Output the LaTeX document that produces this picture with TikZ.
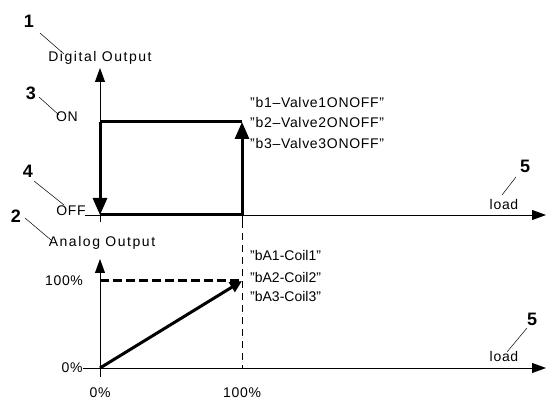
\documentclass[tikz,border=0pt]{standalone}
\usepackage{fontspec}
\setmainfont{Liberation Sans}
\usetikzlibrary{arrows.meta}
\begin{document}
\begin{tikzpicture}[x=1pt,y=-1pt,
  every node/.style={inner sep=0pt},
  txt/.style={font=\fontsize{14}{16}\selectfont\addfontfeature{LetterSpace=5}},
  coil/.style={font=\fontsize{14}{16}\selectfont},
  ttl/.style={font=\fontsize{14}{16}\selectfont\addfontfeature{LetterSpace=11}},
  num/.style={font=\fontsize{18}{20}\selectfont\bfseries},
  axis/.style={line width=0.8pt, -{Triangle[length=14pt,width=10pt]}},
  heavy/.style={line width=3pt},
  heavyarrow/.style={line width=3pt, -{Triangle[length=17pt,width=14pt]}},
  heavyarrowsmall/.style={line width=3pt, -{Triangle[length=12pt,width=11pt]}},
  leader/.style={line width=0.5pt},
  guide/.style={line width=0.8pt, dash pattern=on 7pt off 5pt},
  heavydash/.style={line width=3pt, dash pattern=on 9pt off 4pt}
]
\useasboundingbox (0,0) rectangle (546,403);
% --- top chart points
\coordinate (tyb) at (100,222);
\coordinate (tyt) at (100,68);
\coordinate (txl) at (85,215);
\coordinate (txr) at (546,215);
\coordinate (t0) at (100,215);
\coordinate (ton) at (100,122);
\coordinate (tonr) at (242,122);
\coordinate (toffr) at (242,215);
\coordinate (ttick) at (242,221);
% --- bottom chart points
\coordinate (byb) at (100,377);
\coordinate (byt) at (100,259);
\coordinate (bxl) at (83,368);
\coordinate (bxr) at (546,368);
\coordinate (b0) at (100,368);
\coordinate (bfull) at (100,281);
\coordinate (bfullr) at (242,281);
\coordinate (bdash) at (242,368);
% --- top chart
\draw[axis] (tyb) -- (tyt);
\draw[axis] (txl) -- (txr);
\draw[heavy] (ton) -- (tonr);
\draw[heavy] (t0) -- (toffr);
\draw[heavyarrow] (ton) -- (t0);
\draw[heavyarrow] (toffr) -- (tonr);
\draw[line width=0.8pt] (toffr) -- (ttick);
\draw[guide] (ttick) -- (bdash);
% --- bottom chart
\draw[axis] (byb) -- (byt);
\draw[axis] (bxl) -- (bxr);
\draw[heavydash] (bfull) -- (bfullr);
\draw[heavyarrowsmall] (b0) -- (bfullr);
% --- texts
\node[ttl] (dotitle) at (100,58) {Digital Output};
\node[ttl] (aotitle) at (102,243) {Analog Output};
\node[txt] (on) at (67,117) {ON};
\node[txt] (off) at (71,211) {OFF};
\node[txt] (p100) at (64,281) {100\%};
\node[txt] (p0) at (72,368) {0\%};
\node[txt] (x0) at (100,393) {0\%};
\node[txt] (x100) at (242,393) {100\%};
\node[txt] (load1) at (504,204) {load};
\node[txt] (load2) at (504,356) {load};
\node[txt, anchor=west] (b1) at (250,102) {"b1–Valve1ONOFF"};
\node[txt, anchor=west] (b2) at (250,122) {"b2–Valve2ONOFF"};
\node[txt, anchor=west] (b3) at (250,143) {"b3–Valve3ONOFF"};
\node[coil, anchor=west] (c1) at (250,255) {"bA1-Coil1"};
\node[coil, anchor=west] (c2) at (250,277) {"bA2-Coil2"};
\node[coil, anchor=west] (c3) at (250,296) {"bA3-Coil3"};
% --- number labels
\node[num] (n1) at (29,21) {1};
\node[num] (n2) at (16,216) {2};
\node[num] (n3) at (31,93) {3};
\node[num] (n4) at (28,171) {4};
\node[num] (n5a) at (525,166) {5};
\node[num] (n5b) at (532,319) {5};
% --- leader lines
\coordinate (l1a) at (40,33);  \coordinate (l1b) at (64,54);
\coordinate (l2a) at (25,218); \coordinate (l2b) at (51,240);
\coordinate (l3a) at (39,97);  \coordinate (l3b) at (59,115);
\coordinate (l4a) at (34,181); \coordinate (l4b) at (64,205);
\coordinate (l5a) at (516,177); \coordinate (l5b) at (502,195);
\coordinate (l6a) at (527,328); \coordinate (l6b) at (507,352);
\draw[leader] (l1a) -- (l1b);
\draw[leader] (l2a) -- (l2b);
\draw[leader] (l3a) -- (l3b);
\draw[leader] (l4a) -- (l4b);
\draw[leader] (l5a) -- (l5b);
\draw[leader] (l6a) -- (l6b);
\end{tikzpicture}
\end{document}
